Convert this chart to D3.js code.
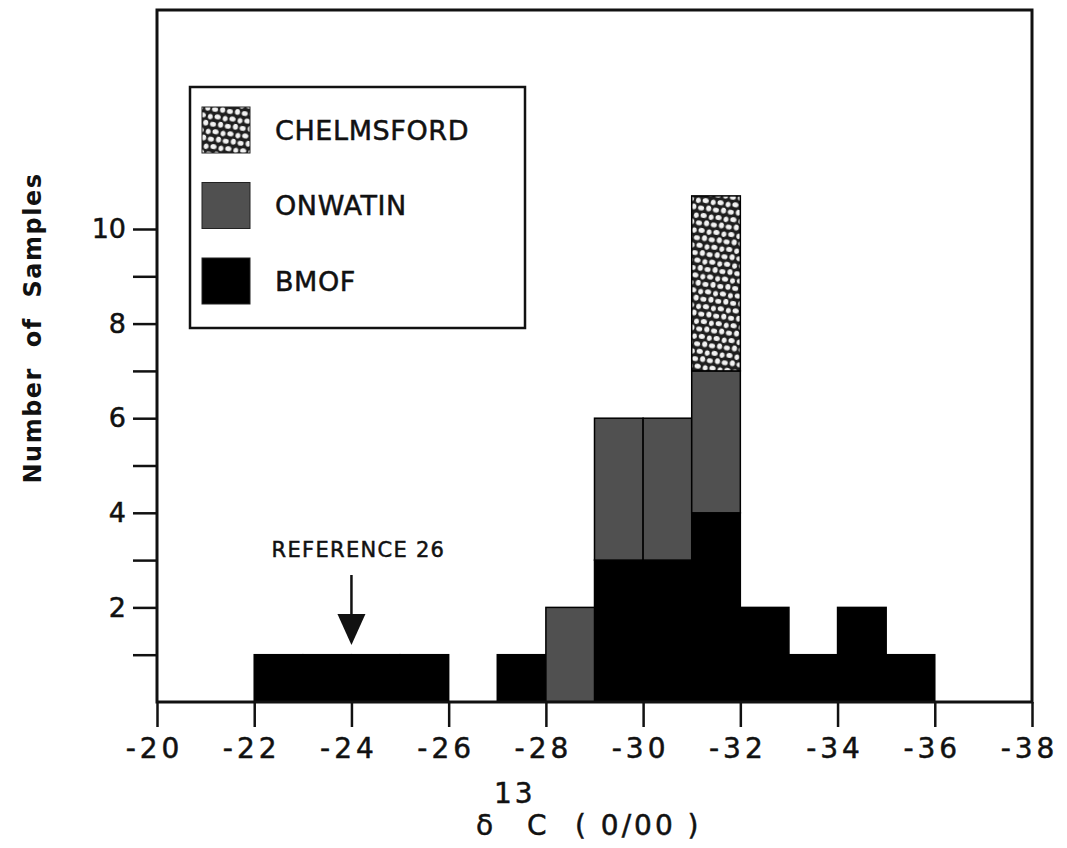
<!DOCTYPE html>
<html>
<head>
<meta charset="utf-8">
<script src="https://cdn.jsdelivr.net/npm/d3@7"></script>
<style>
  body { margin: 0; background: #fff; }
  text { font-family: "DejaVu Sans", sans-serif; fill: #111; stroke: #111; stroke-width: 0.5px; }
</style>
</head>
<body>
<div id="chart"></div>
<script>
// bins of 1 permil, labelled by their starting value
var binStart = [-22, -23, -24, -25, -27, -28, -29, -30, -31, -32, -33, -34, -35]
var bmof = [1, 1, 1, 1, 1, 0, 3, 3, 4, 2, 1, 2, 1]
var onwatin = [0, 0, 0, 0, 0, 2, 3, 3, 3, 0, 0, 0, 0]
var chelmsford = [0, 0, 0, 0, 0, 0, 0, 0, 3.7, 0, 0, 0, 0]
var seriesNames = ["BMOF", "ONWATIN", "CHELMSFORD"]
var xTicks = [-20, -22, -24, -26, -28, -30, -32, -34, -36, -38]
var yTicks = [1, 2, 3, 4, 5, 6, 7, 8, 9, 10]
var yLabels = [2, 4, 6, 8, 10]

var width = 1067, height = 848

var svg = d3.select("#chart")
  .append("svg")
  .attr("width", width)
  .attr("height", height)

// stipple fill for the Chelmsford bar
var defs = svg.append("defs")
var pat = defs.append("pattern")
  .attr("id", "stipple")
  .attr("patternUnits", "userSpaceOnUse")
  .attr("width", 15)
  .attr("height", 15)
  .attr("patternTransform", "rotate(8)")
pat.append("rect").attr("width", 15).attr("height", 15).attr("fill", "#1e1e1e")
var blobs = [[3.2, 3.4, 3.0, 2.4], [10.8, 2.8, 2.6, 2.9], [6.8, 10.4, 3.1, 2.5], [14.5, 11.2, 2.4, 2.7], [-0.5, 11.2, 2.4, 2.7], [10.8, 17.8, 2.6, 2.9], [6.8, -4.6, 3.1, 2.5]]
blobs.forEach(function (b) {
  pat.append("ellipse").attr("cx", b[0]).attr("cy", b[1]).attr("rx", b[2]).attr("ry", b[3]).attr("fill", "#f2f2f2")
})

var fills = { BMOF: "#000", ONWATIN: "#505050", CHELMSFORD: "url(#stipple)" }

var x = d3.scaleLinear().domain([-20, -38]).range([157, 1032])
var y = d3.scaleLinear().domain([0, 10]).range([702, 229])

var table = binStart.map(function (b, i) {
  return { start: b, BMOF: bmof[i], ONWATIN: onwatin[i], CHELMSFORD: chelmsford[i] }
})
var stacked = d3.stack().keys(seriesNames)(table)

svg.append("g")
  .selectAll("g")
  .data(stacked)
  .enter()
  .append("g")
  .attr("fill", function (d) { return fills[d.key] })
  .selectAll("rect")
  .data(function (d) { return d.filter(function (s) { return s[1] > s[0] }) })
  .enter()
  .append("rect")
  .attr("x", function (d) { return x(d.data.start) })
  .attr("width", function (d) { return x(d.data.start - 1) - x(d.data.start) })
  .attr("y", function (d) { return y(d[1]) })
  .attr("height", function (d) { return y(d[0]) - y(d[1]) })
  .attr("stroke", "#000")
  .attr("stroke-width", 1.5)

// frame
svg.append("rect")
  .attr("x", x(-20))
  .attr("y", 10)
  .attr("width", x(-38) - x(-20))
  .attr("height", y(0) - 10)
  .attr("fill", "none")
  .attr("stroke", "#111")
  .attr("stroke-width", 3)

// x axis
var xAxis = svg.append("g")
  .attr("transform", "translate(0," + y(0) + ")")
  .call(d3.axisBottom(x).tickValues(xTicks).tickSize(25).tickFormat(function (d) { return String(d) }))
xAxis.select(".domain").remove()
xAxis.selectAll("line").attr("stroke", "#111").attr("stroke-width", 2.5)
xAxis.selectAll("text")
  .attr("y", 56).attr("dy", 0).attr("dx", -3)
  .attr("fill", "#111")
  .style("font-family", "DejaVu Sans")
  .style("font-size", "28px")
  .style("letter-spacing", "4px")

// y axis
var yAxis = svg.append("g")
  .attr("transform", "translate(" + x(-20) + ",0)")
  .call(d3.axisLeft(y).tickValues(yTicks).tickSize(24).tickFormat(function (d) {
    return yLabels.indexOf(d) >= 0 ? String(d) : ""
  }))
yAxis.select(".domain").remove()
yAxis.selectAll("line").attr("stroke", "#111").attr("stroke-width", 2.5)
yAxis.selectAll("text")
  .attr("x", -31)
  .attr("fill", "#111")
  .style("font-family", "DejaVu Sans")
  .style("font-size", "27px")
  .style("letter-spacing", "0px")

// y title
svg.append("text")
  .attr("transform", "translate(41,328) rotate(-90)")
  .attr("text-anchor", "middle")
  .style("font-size", "24px")
  .style("font-weight", "bold")
  .style("stroke-width", "0px")
  .style("letter-spacing", "1.5px")
  .style("word-spacing", "10px")
  .text("Number of Samples")

// x title
var xt = svg.append("text").attr("y", 835).style("font-size", "28px")
xt.append("tspan").attr("x", 476).text("δ")
xt.append("tspan").attr("x", 527).text("C")
xt.append("tspan").attr("x", 575).style("letter-spacing", "3px").text("( 0/00 )")
svg.append("text")
  .attr("x", 494).attr("y", 803)
  .style("font-size", "28px")
  .style("letter-spacing", "3px")
  .text("13")

// legend
var legend = svg.append("g")
legend.append("rect")
  .attr("x", 190).attr("y", 87)
  .attr("width", 335).attr("height", 241)
  .attr("fill", "#fff")
  .attr("stroke", "#111")
  .attr("stroke-width", 2.5)
var legendItems = ["CHELMSFORD", "ONWATIN", "BMOF"]
legendItems.forEach(function (name, i) {
  var top = 107 + i * 75.5
  legend.append("rect")
    .attr("x", 202).attr("y", top)
    .attr("width", 48).attr("height", 46)
    .attr("fill", fills[name])
    .attr("stroke", "#222")
    .attr("stroke-width", 1)
  legend.append("text")
    .attr("x", 275).attr("y", top + 23)
    .attr("dy", "0.36em")
    .style("font-size", "27px")
    .style("letter-spacing", "0.6px")
    .text(name)
})

// annotation
var ax = x(-24)
svg.append("text")
  .attr("x", ax + 7).attr("y", 557)
  .attr("text-anchor", "middle")
  .style("font-size", "21px")
  .style("letter-spacing", "1.3px")
  .text("REFERENCE 26")
svg.append("line")
  .attr("x1", ax).attr("x2", ax)
  .attr("y1", 575).attr("y2", 618)
  .attr("stroke", "#111").attr("stroke-width", 2.5)
svg.append("path")
  .attr("d", "M" + (ax - 14) + ",614 L" + (ax + 14) + ",614 L" + ax + ",645 Z")
  .attr("fill", "#111")
</script>
</body>
</html>
